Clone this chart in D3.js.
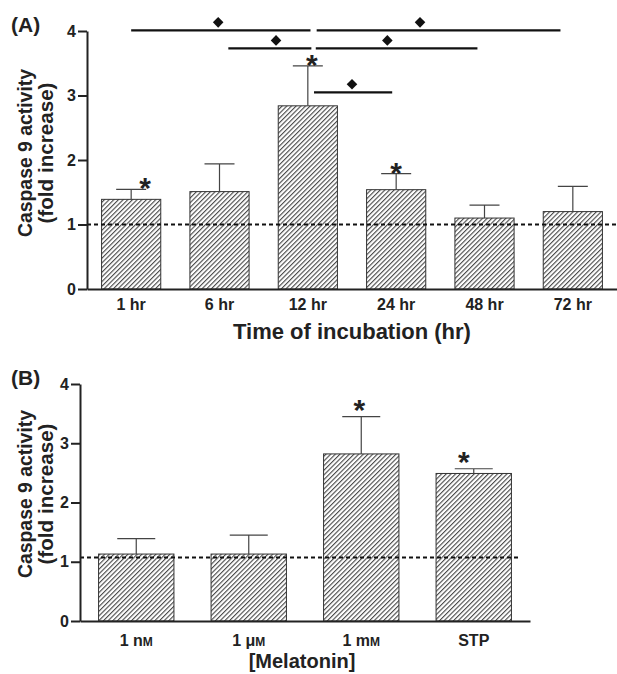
<!DOCTYPE html>
<meta charset="utf-8">
<script src="https://d3js.org/d3.v7.min.js"></script>
<style>
  body { margin: 0; background: #fff; }
  text { font-family: "Liberation Sans", Arial, sans-serif; font-weight: bold; fill: #222; }
</style>
<body>
<script>
// panel A: caspase 9 vs time of incubation
var catsA = ["1 hr", "6 hr", "12 hr", "24 hr", "48 hr", "72 hr"];
var meanA = [1.39, 1.51, 2.84, 1.54, 1.10, 1.20];
var upperA = [1.545, 1.94, 3.46, 1.79, 1.30, 1.59];
var starA = [1, 0, 1, 1, 0, 0];
var refA = 1.0;
// comparisons: [from, to, level, diamond] in category-index units
var compsA = [
  [0, 2.03, 4.01, 0.985],
  [2.1, 4.86, 4.01, 3.27],
  [1.1, 2.04, 3.73, 1.64],
  [2.09, 3.92, 3.73, 2.9],
  [2.07, 2.955, 3.05, 2.5]
];

// panel B: melatonin concentration
var catsB = ["1 nM", "1 μM", "1 mM", "STP"];
var meanB = [1.13, 1.13, 2.82, 2.49];
var upperB = [1.39, 1.45, 3.45, 2.57];
var starB = [0, 0, 1, 1];
var refB = 1.07;

var yTicks = [0, 1, 2, 3, 4];

var svg = d3.select("body").append("svg")
  .attr("width", 617)
  .attr("height", 674);

var defs = svg.append("defs");
var pat = defs.append("pattern")
  .attr("id", "hatch")
  .attr("patternUnits", "userSpaceOnUse")
  .attr("width", 3.3)
  .attr("height", 10)
  .attr("patternTransform", "rotate(45)");
pat.append("rect").attr("width", 3.3).attr("height", 10).attr("fill", "#fff");
pat.append("line")
  .attr("x1", 0.6).attr("y1", 0).attr("x2", 0.6).attr("y2", 10)
  .attr("stroke", "#2a2a2a").attr("stroke-width", 0.95);

function panel(o) {
  var g = svg.append("g");
  var x = d3.scaleBand().domain(o.cats).range(o.xr).paddingInner(0.33).paddingOuter(0.165);
  var y = d3.scaleLinear().domain([0, 4]).range(o.yr);
  var cx = function(i) { return x(o.cats[i]) + x.bandwidth() / 2; };

  // bars
  g.selectAll(".bar").data(o.mean).enter().append("rect")
    .attr("x", function(d, i) { return x(o.cats[i]); })
    .attr("y", function(d) { return y(d); })
    .attr("width", x.bandwidth())
    .attr("height", function(d) { return y(0) - y(d); })
    .attr("fill", "url(#hatch)")
    .attr("stroke", "#333")
    .attr("stroke-width", 1);

  // error bars
  g.selectAll(".err").data(o.upper).enter().append("path")
    .attr("d", function(d, i) {
      var c = cx(i);
      return "M" + c + "," + y(o.mean[i]) + "V" + y(d) + "M" + (c - o.cap) + "," + y(d) + "H" + (c + o.cap);
    })
    .attr("fill", "none")
    .attr("stroke", "#444")
    .attr("stroke-width", 1.2);

  // reference line
  g.append("line")
    .attr("x1", o.xr[0]).attr("x2", o.refEnd)
    .attr("y1", y(o.ref)).attr("y2", y(o.ref))
    .attr("stroke", "#111").attr("stroke-width", 2)
    .attr("stroke-dasharray", "4,3");

  // stars
  o.upper.forEach(function(d, i) {
    if (!o.star[i]) return;
    g.append("text")
      .attr("x", cx(i) + o.starDx[i])
      .attr("y", y(d) + o.starDy)
      .attr("text-anchor", "middle")
      .style("font-size", "30px")
      .text("*");
  });

  // y axis
  var ya = g.append("g")
    .attr("transform", "translate(" + o.xr[0] + ",0)")
    .call(d3.axisLeft(y).tickValues(yTicks).tickFormat(d3.format("d")).tickSize(9).tickSizeOuter(0).tickPadding(2));
  ya.select(".domain").attr("stroke", "#222").attr("stroke-width", 2);
  ya.selectAll(".tick line").attr("stroke", "#222").attr("stroke-width", 2);
  ya.selectAll(".tick text").style("font-size", "16px").attr("fill", "#222").attr("font-family", null);

  // x axis
  var xa = g.append("g")
    .attr("transform", "translate(0," + y(0) + ")")
    .call(d3.axisBottom(x).tickSize(0).tickSizeOuter(0).tickPadding(o.xPad));
  xa.select(".domain").attr("stroke", "#222").attr("stroke-width", 2.2);
  xa.selectAll(".tick text").style("font-size", "16px").attr("fill", "#222").attr("font-family", null)
    .each(function(d) {
      var t = d3.select(this);
      if (/[nμm]M$/.test(d)) {
        t.text(d.slice(0, -1));
        t.append("tspan").style("font-size", "12px").text("M");
      }
    });

  // panel letter and titles
  g.append("text").attr("x", 11).attr("y", o.yr[1] + 1).style("font-size", "21px").text(o.letter);
  var yt = g.append("text")
    .attr("transform", "translate(0," + o.ytMid + ") rotate(-90)")
    .attr("text-anchor", "middle")
    .style("font-size", "21px");
  yt.append("tspan").attr("x", 0).attr("y", 32).attr("textLength", 168).attr("lengthAdjust", "spacingAndGlyphs").text("Caspase 9 activity");
  yt.append("tspan").attr("x", 0).attr("y", 52.5).attr("textLength", 141).attr("lengthAdjust", "spacingAndGlyphs").text("(fold increase)");
  g.append("text")
    .attr("x", (o.xr[0] + o.xr[1]) / 2 + o.xtDx).attr("y", y(0) + o.xtDy)
    .attr("text-anchor", "middle")
    .style("font-size", o.xtSize)
    .text(o.xTitle);

  return { x: x, y: y, cx: cx, g: g };
}

var A = panel({
  cats: catsA, mean: meanA, upper: upperA, star: starA, ref: refA,
  starDx: [14, 0, 4, 0, 0, 0], starDy: 9,
  xr: [87, 617], yr: [289, 31], cap: 15, refEnd: 617, xPad: 10,
  letter: "(A)", ytMid: 153, xTitle: "Time of incubation (hr)", xtDx: 0, xtDy: 50, xtSize: "22px"
});

// significance brackets (panel A)
var step = A.x.step();
var ix = function(v) { return A.cx(0) + v * step; };
A.g.selectAll(".sig").data(compsA).enter().append("line")
  .attr("x1", function(d) { return ix(d[0]); })
  .attr("x2", function(d) { return ix(d[1]); })
  .attr("y1", function(d) { return A.y(d[2]); })
  .attr("y2", function(d) { return A.y(d[2]); })
  .attr("stroke", "#111").attr("stroke-width", 2.2);
A.g.selectAll(".dia").data(compsA).enter().append("path")
  .attr("d", d3.symbol().type(d3.symbolSquare).size(56))
  .attr("transform", function(d) { return "translate(" + ix(d[3]) + "," + (A.y(d[2]) - 8) + ") rotate(45)"; })
  .attr("fill", "#111");

var B = panel({
  cats: catsB, mean: meanB, upper: upperB, star: starB, ref: refB,
  starDx: [0, 0, -2, -10], starDy: 3,
  xr: [80, 530], yr: [621, 384], cap: 19, refEnd: 521, xPad: 14,
  letter: "(B)", ytMid: 494, xTitle: "[Melatonin]", xtDx: -3, xtDy: 47, xtSize: "20px"
});
</script>
</body>
